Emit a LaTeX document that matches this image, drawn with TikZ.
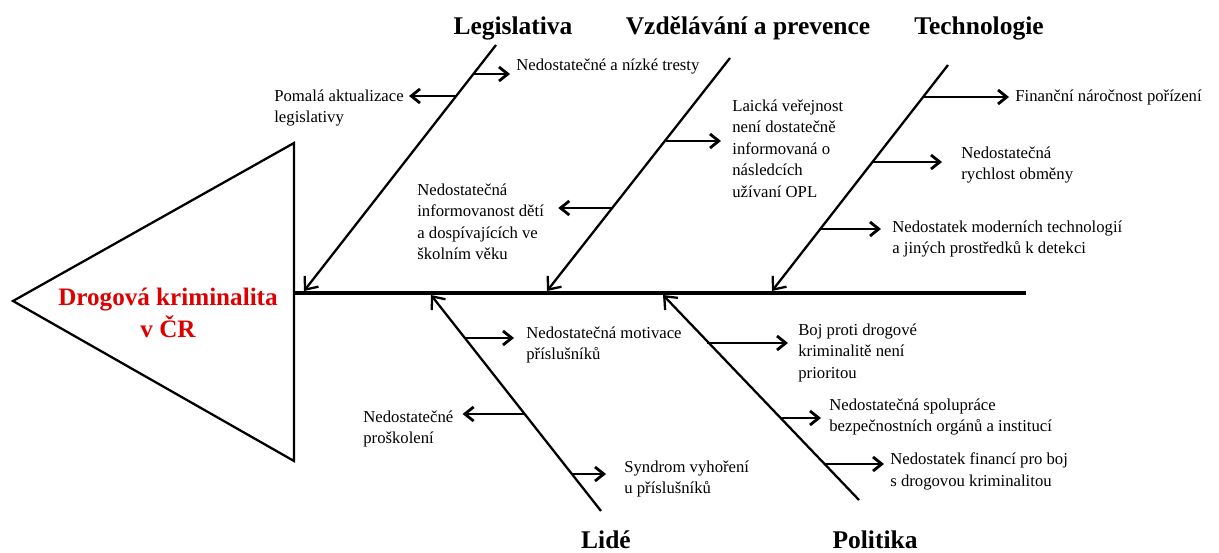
\documentclass[tikz,border=0pt]{standalone}
\usepackage{fontspec}
\setmainfont{Liberation Serif}
\usetikzlibrary{arrows.meta,calc}
\definecolor{headred}{RGB}{222,0,0}

\begin{document}
\begin{tikzpicture}[x=0.02cm,y=-0.02cm,
  frame/.style={line width=1.3pt,line join=miter},
  spine/.style={line width=1.8pt},
  bone/.style={line width=1.3pt,-{Straight Barb[length=6pt,width=10pt]}},
  branch/.style={line width=1.6pt,-{Straight Barb[length=5pt,width=8pt]}},
  category/.style={font=\fontsize{14.5}{17}\selectfont\bfseries,inner sep=0pt},
  cause/.style={font=\fontsize{9.5}{12.2}\selectfont,align=left,inner sep=0pt},
  effect/.style={font=\fontsize{14.3}{18}\selectfont\bfseries,align=center,text=headred,inner sep=0pt}]
\useasboundingbox (0,0) rectangle (1219,553);
%head
\coordinate (headTip) at (13,301);
\coordinate (headTop) at (294,143);
\coordinate (headBot) at (294,461);
\draw[frame] (headTop) -- (headTip) -- (headBot) -- cycle;
\node[effect] (problem) at (168,313) {Drogová kriminalita\\v ČR};
%spine
\coordinate (spineStart) at (294,293);
\coordinate (spineEnd) at (1026,293);
\draw[spine] (spineStart) -- (spineEnd);
%categories
\node[category] (legis) at (513,28) {Legislativa};
\node[category] (prev) at (748,28) {Vzdělávání a prevence};
\node[category] (tech) at (979,28) {Technologie};
\node[category] (people) at (606,540) {Lidé};
\node[category] (polit) at (875,540) {Politika};
%bones
\coordinate (legisTop) at (496,45);  \coordinate (legisEnd) at (304,291);
\coordinate (prevTop) at (730,58);   \coordinate (prevEnd) at (547,291);
\coordinate (techTop) at (948,65);   \coordinate (techEnd) at (772,291);
\coordinate (peopleBot) at (601,511); \coordinate (peopleEnd) at (431,295);
\coordinate (politBot) at (859,500);  \coordinate (politEnd) at (663,295);
\draw[bone] (legisTop) -- (legisEnd);
\draw[bone] (prevTop) -- (prevEnd);
\draw[bone] (techTop) -- (techEnd);
\draw[bone] (peopleBot) -- (peopleEnd);
\draw[bone] (politBot) -- (politEnd);
%Legislativa
\coordinate (l1) at (473,74);
\node[cause,anchor=west] (tl1) at (516,66) {Nedostatečné a nízké tresty};
\draw[branch] (l1) -- ($(l1 -| tl1.west)+(-6,0)$);
\coordinate (l2) at (456,96);
\node[cause,anchor=north west] (tl2) at (274,89.5) {Pomalá aktualizace\\legislativy};
\draw[branch] (l2) -- ($(l2 -| tl2.east)+(5,0)$);
%Vzdelavani a prevence
\coordinate (v1) at (666,141);
\node[cause,anchor=north west] (tv1) at (732,99.5) {Laická veřejnost\\není dostatečně\\informovaná o\\následcích\\užívaní OPL};
\draw[branch] (v1) -- ($(v1 -| tv1.west)+(-11,0)$);
\coordinate (v2) at (613,208);
\node[cause,anchor=north west] (tv2) at (417,183.5) {Nedostatečná\\informovanost dětí\\a dospívajících ve\\školním věku};
\draw[branch] (v2) -- ($(v2 -| tv2.east)+(14,0)$);
%Technologie
\coordinate (k1) at (923,97);
\node[cause,anchor=west] (tk1) at (1015,97) {Finanční náročnost pořízení};
\draw[branch] (k1) -- ($(k1 -| tk1.west)+(-6,0)$);
\coordinate (k2) at (873,162);
\node[cause,anchor=north west] (tk2) at (961,146.5) {Nedostatečná\\rychlost obměny};
\draw[branch] (k2) -- ($(k2 -| tk2.west)+(-19,0)$);
\coordinate (k3) at (821,229);
\node[cause,anchor=north west] (tk3) at (892,220.5) {Nedostatek moderních technologií\\a jiných prostředků k detekci};
\draw[branch] (k3) -- ($(k3 -| tk3.west)+(-11,0)$);
%Lide
\coordinate (p1) at (465,338);
\node[cause,anchor=north west] (tp1) at (526,326.5) {Nedostatečná motivace\\příslušníků};
\draw[branch] (p1) -- ($(p1 -| tp1.west)+(-12,0)$);
\coordinate (p2) at (525,414);
\node[cause,anchor=north west] (tp2) at (363,410.5) {Nedostatečné\\proškolení};
\draw[branch] (p2) -- ($(p2 -| tp2.east)+(9,0)$);
\coordinate (p3) at (572,474);
\node[cause,anchor=north west] (tp3) at (624,460.5) {Syndrom vyhoření\\u příslušníků};
\draw[branch] (p3) -- ($(p3 -| tp3.west)+(-18,0)$);
%Politika
\coordinate (o1) at (707,343);
\node[cause,anchor=north west] (to1) at (798,323.5) {Boj proti drogové\\kriminalitě není\\prioritou};
\draw[branch] (o1) -- ($(o1 -| to1.west)+(-10,0)$);
\coordinate (o2) at (780,418);
\node[cause,anchor=north west] (to2) at (829,398.5) {Nedostatečná spolupráce\\bezpečnostních orgánů a institucí};
\draw[branch] (o2) -- ($(o2 -| to2.west)+(-8,0)$);
\coordinate (o3) at (824,464);
\node[cause,anchor=north west] (to3) at (890,452.5) {Nedostatek financí pro boj\\s drogovou kriminalitou};
\draw[branch] (o3) -- ($(o3 -| to3.west)+(-6,0)$);
\end{tikzpicture}
\end{document}
